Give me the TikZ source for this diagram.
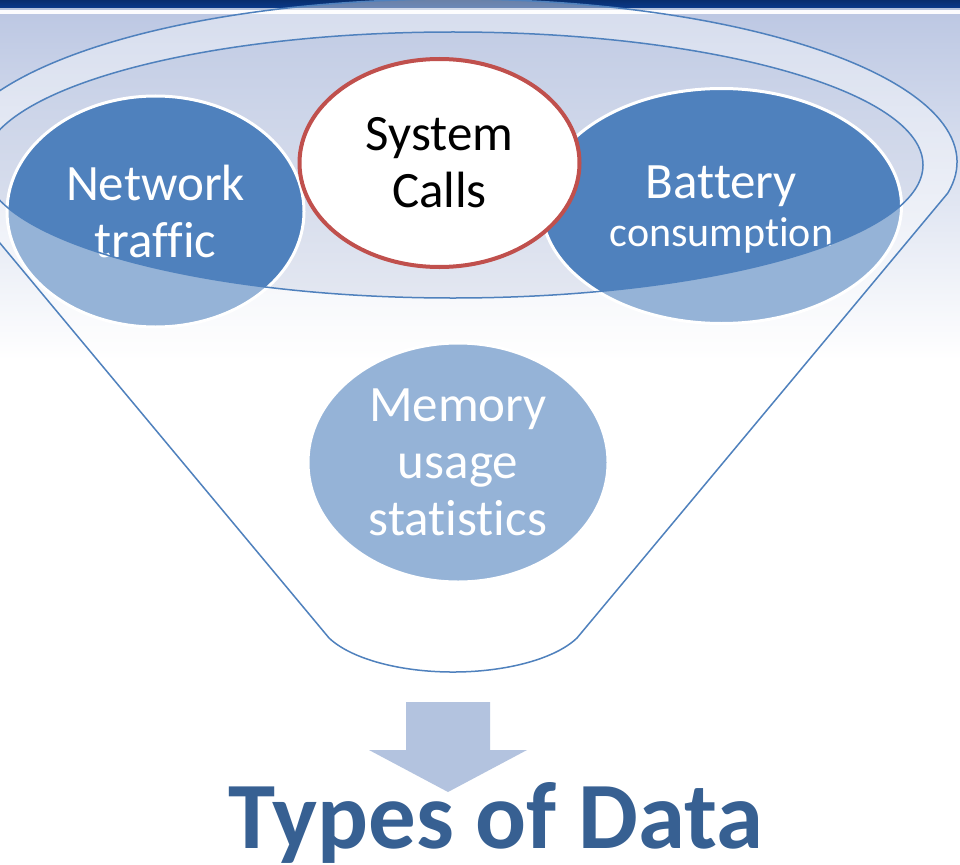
\documentclass[tikz,border=0pt]{standalone}
\usepackage{fontspec}
\setmainfont{Carlito}[Ligatures=CommonOff]
\definecolor{fnblue}{HTML}{4F81BD}
\definecolor{fnred}{HTML}{C0504D}
\definecolor{fnnavy}{HTML}{0A3A8A}
\definecolor{fnbgtop}{HTML}{BDC8E3}
\definecolor{fnholetop}{HTML}{C3CDE5}
\definecolor{fnholebot}{HTML}{E3E7F1}
\definecolor{fnarrow}{HTML}{B3C3DF}
\definecolor{fntitle}{HTML}{376092}
\usetikzlibrary{shapes.geometric}

\begin{document}
\begin{tikzpicture}[x=1pt,y=-1pt,
    blob/.style={ellipse,fill=fnblue,draw=white,line width=3pt,inner sep=0pt,align=center,text=white,font=\fontsize{51}{57}\selectfont},
    rim/.style={draw=fnblue,line width=1.5pt}]
  \useasboundingbox (0,0) rectangle (960,864);
  \clip (0,0) rectangle (960,864);
  % slide background
  \fill[white] (0,0) rectangle (960,864);
  \shade[top color=fnbgtop,bottom color=white] (0,14) rectangle (960,360);
  \shade[top color=fnnavy!80!black,bottom color=fnnavy] (0,0) rectangle (960,8);
  \fill[fnnavy!30] (0,8) rectangle (960,10);
  \fill[white!95!fnbgtop] (0,10) rectangle (960,14);
  % opening of the funnel
  \shade[top color=fnholetop,bottom color=fnholebot] (453,165) ellipse [x radius=470,y radius=133];
  % the four kinds of data
  \node[blob,minimum width=297pt,minimum height=231pt] (net) at (155.5,211.5) {Network\\traffic};
  \node[blob,minimum width=360pt,minimum height=235pt,text depth=0pt,font=\fontsize{51}{48}\selectfont] (bat) at (721.5,206)
    {Battery\\{\fontsize{42}{48}\selectfont consumption}};
  \node[blob,minimum width=300pt,minimum height=239pt] (mem) at (458,462.5) {Memory\\usage\\statistics};
  \node[blob,fill=white,draw=fnred,line width=4pt,text=black,minimum width=280pt,minimum height=208pt] (sys) at (439.5,163) {System\\Calls};
  % funnel body over them
  \path[rim,fill=white,fill opacity=0.4,even odd rule]
    (-41.7,193.1) arc[start angle=169,end angle=371,x radius=504,y radius=163]
    -- (577,638) arc[start angle=23.8,end angle=156.2,x radius=135.5,y radius=57] -- cycle
    (453,165) ellipse [x radius=470,y radius=133];
  % result
  \fill[fnarrow] (406,702) -- (490,702) -- (490,750) -- (527,750) -- (448,792) -- (369,750) -- (406,750) -- cycle;
  \node[font=\bfseries\fontsize{95}{95}\selectfont,text=fntitle,anchor=base,inner sep=0pt] (title) at (496,848) {Types of Data};
\end{tikzpicture}
\end{document}
